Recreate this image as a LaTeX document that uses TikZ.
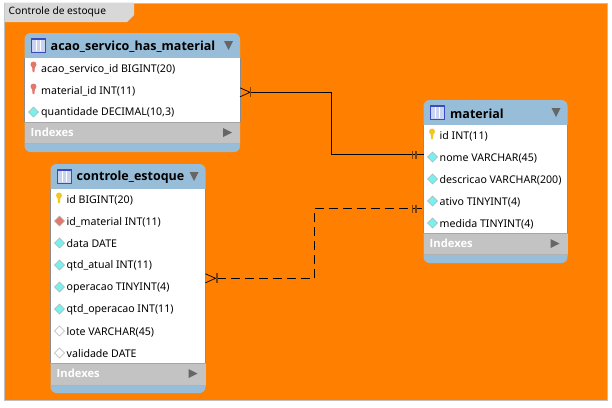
\documentclass[tikz,border=0pt]{standalone}
\usepackage{fontspec}
\setmainfont{Noto Sans}
\newfontfamily\titlefont[BoldFont={Open Sans Bold}]{Open Sans}
\usetikzlibrary{calc}
\definecolor{bgorange}{HTML}{FF8000}
\definecolor{hdrblue}{HTML}{98BDD8}
\definecolor{idxgray}{HTML}{C3C3C3}
\definecolor{tabgray}{HTML}{D8D8D8}
\definecolor{arrowgray}{HTML}{666666}
\definecolor{barbrown}{HTML}{7F4000}
\definecolor{keyyellow}{HTML}{F2C81E}
\definecolor{keyred}{HTML}{E0786C}
\definecolor{diacyan}{HTML}{78F0F0}
\definecolor{iconblue}{HTML}{3C4CC0}
\definecolor{iconfill}{HTML}{C8D4F0}
\tikzset{
  x=1pt,y=-1pt,
  rowtext/.style={anchor=west,inner sep=0pt,font=\fontsize{10.6}{12}\selectfont,text=black},
  titletext/.style={anchor=west,inner sep=0pt,font=\titlefont\fontsize{12.5}{14}\selectfont\bfseries,text=black},
  idxtext/.style={anchor=west,inner sep=0pt,font=\titlefont\fontsize{11.2}{12}\selectfont\bfseries,text=white},
  tabtext/.style={anchor=west,inner sep=0pt,font=\fontsize{10.2}{12}\selectfont,text=black},
  rel/.style={line width=1pt,black},
  reldash/.style={rel,dash pattern=on 9.5pt off 4.5pt},
  bar/.style={line width=1.4pt,barbrown},
  foot/.style={line width=.7pt,black},
}
\newcommand{\tablebox}[8]{%
  \fill[hdrblue,rounded corners=6pt] (#2,#3) rectangle (#4,#8);
  \fill[white] (#2,#5) rectangle (#4,#6);
  \fill[idxgray] (#2,#6) rectangle (#4,#7);
  \draw[black!35,line width=.5pt] (#2,#6) -- (#4,#6);
  \draw[black!30,line width=.5pt] (#2,#7) -- (#4,#7);
  \draw[black!45,line width=.6pt] (#2,#5) -- (#2,#6) (#4,#5) -- (#4,#6);
  \fill[iconfill] (#2+7,#3+5) rectangle (#2+21,#3+19);
  \draw[iconblue,line width=.7pt] (#2+7,#3+5) rectangle (#2+21,#3+19);
  \draw[white,line width=.6pt] (#2+11.5,#3+7) -- (#2+11.5,#3+18) (#2+16,#3+7) -- (#2+16,#3+18);
  \fill[iconblue] (#2+7,#3+5) rectangle (#2+21,#3+7);
  \fill[arrowgray] (#4-16,#3+8) -- (#4-7,#3+8) -- (#4-11.5,#3+17) -- cycle;
  \fill[arrowgray] (#4-17,#6+6) -- (#4-8,#6+10.5) -- (#4-17,#6+15) -- cycle;
  \node[idxtext] (#1idx) at (#2+6,#6+10.5) {Indexes};
}
\newcommand{\keyicon}[3]{%
  \fill[#3] (#1,#2-2.5) circle (3pt);
  \fill[#3] (#1-1.6,#2-2) -- (#1+1.6,#2-2) -- (#1+.9,#2+5) -- (#1-.9,#2+5) -- cycle;
}
\newcommand{\diaicon}[3]{%
  \fill[#3] (#1-5,#2) -- (#1,#2-5) -- (#1+5,#2) -- (#1,#2+5) -- cycle;
  \draw[black!30,line width=.4pt] (#1-5,#2) -- (#1,#2-5) -- (#1+5,#2) -- (#1,#2+5) -- cycle;
}
\begin{document}
\begin{tikzpicture}
\useasboundingbox (0,0) rectangle (612,407);
\fill[white] (0,0) rectangle (612,407);
\fill[bgorange] (4.7,3) rectangle (607.7,400.7);
\draw[black!25,line width=.8pt] (4.7,3) rectangle (607.7,400.7);
\fill[tabgray] (4.7,2.6) -- (134,2.6) -- (134,15) -- (127,22) -- (4.7,22) -- cycle;
\node[tabtext] (tab) at (8.5,11.5) {Controle de estoque};

\tablebox{acao}{24.5}{33}{240}{58}{122}{143}{152}
\node[titletext] (acaotitle) at (50.5,46.5) {acao\_servico\_has\_material};
\keyicon{33.5}{67}{keyred}
\node[rowtext] (acao1) at (41,69) {acao\_servico\_id BIGINT(20)};
\keyicon{33.5}{89}{keyred}
\node[rowtext] (acao2) at (41,91) {material\_id INT(11)};
\diaicon{33.5}{112}{diacyan}
\node[rowtext] (acao3) at (41,113) {quantidade DECIMAL(10,3)};

\tablebox{ctrl}{50.5}{164}{205.5}{188.5}{363}{385}{393}
\node[titletext] (ctrltitle) at (76.5,177) {controle\_estoque};
\keyicon{59}{198}{keyyellow}
\node[rowtext] (ctrl1) at (66.5,200) {id BIGINT(20)};
\diaicon{59.5}{221}{keyred}
\node[rowtext] (ctrl2) at (66.5,222) {id\_material INT(11)};
\diaicon{59.5}{243}{diacyan}
\node[rowtext] (ctrl3) at (66.5,244) {data DATE};
\diaicon{59.5}{265}{diacyan}
\node[rowtext] (ctrl4) at (66.5,266) {qtd\_atual INT(11)};
\diaicon{59.5}{287}{diacyan}
\node[rowtext] (ctrl5) at (66.5,288) {operacao TINYINT(4)};
\diaicon{59.5}{309}{diacyan}
\node[rowtext] (ctrl6) at (66.5,310) {qtd\_operacao INT(11)};
\diaicon{59.5}{331}{white}
\node[rowtext] (ctrl7) at (66.5,332) {lote VARCHAR(45)};
\diaicon{59.5}{353}{white}
\node[rowtext] (ctrl8) at (66.5,354) {validade DATE};

\tablebox{mat}{423.5}{100}{567.5}{124.5}{233}{254.5}{263}
\node[titletext] (mattitle) at (450,113.5) {material};
\keyicon{432}{134}{keyyellow}
\node[rowtext] (mat1) at (439.5,136) {id INT(11)};
\diaicon{432.5}{157}{diacyan}
\node[rowtext] (mat2) at (439.5,158) {nome VARCHAR(45)};
\diaicon{432.5}{179}{diacyan}
\node[rowtext] (mat3) at (439.5,180) {descricao VARCHAR(200)};
\diaicon{432.5}{201}{diacyan}
\node[rowtext] (mat4) at (439.5,202) {ativo TINYINT(4)};
\diaicon{432.5}{223}{diacyan}
\node[rowtext] (mat5) at (439.5,224) {medida TINYINT(4)};

\coordinate (acaoEnd) at (240,92.3);
\coordinate (matEndA) at (423.5,154.5);
\coordinate (ctrlEnd) at (205.5,278.3);
\coordinate (matEndB) at (423.5,208.5);
\coordinate (bendA) at (331.5,92.3);
\coordinate (bendB) at (331.5,154.5);
\coordinate (bendC) at (314.5,278.3);
\coordinate (bendD) at (314.5,208.5);

\draw[rel] (acaoEnd) ++(10,0) -- (bendA) -- (bendB) -- (matEndA);
\draw[reldash] (ctrlEnd) ++(11,0) -- (bendC) -- (bendD) -- (matEndB);

\draw[foot] (acaoEnd) ++(0,-4.5) -- ++(10,4.5) -- ++(-10,4.5);
\draw[bar] (acaoEnd) ++(10.5,-5) -- ++(0,10);
\draw[foot] (ctrlEnd) ++(0,-4.5) -- ++(10,4.5) -- ++(-10,4.5);
\draw[bar] (ctrlEnd) ++(11.5,-5) -- ++(0,10);
\draw[bar] (matEndA) ++(-11,-4) -- ++(0,8) (matEndA) ++(-7.5,-4) -- ++(0,8);
\draw[bar] (matEndB) ++(-11,-4) -- ++(0,8) (matEndB) ++(-7.5,-4) -- ++(0,8);
\end{tikzpicture}
\end{document}
